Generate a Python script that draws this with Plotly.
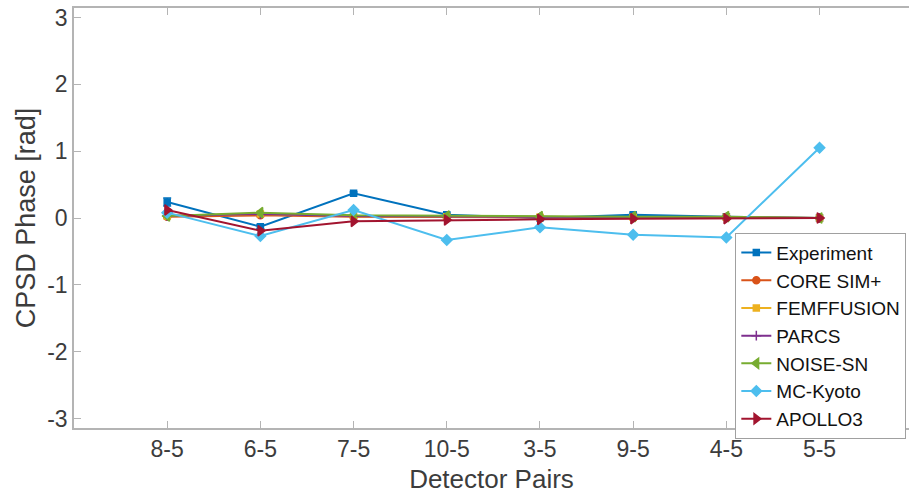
import plotly.graph_objects as go

pairs = ["8-5", "6-5", "7-5", "10-5", "3-5", "9-5", "4-5", "5-5"]
experiment = [0.24, -0.13, 0.37, 0.05, 0.00, 0.05, 0.02, 0.00]
experiment_err = [0.06, 0.03, 0.02, 0.02, 0.01, 0.02, 0.01, 0.00]
core_sim = [0.02, 0.04, 0.02, 0.01, 0.01, 0.01, 0.01, 0.00]
femffusion = [0.03, 0.06, 0.03, 0.02, 0.01, 0.01, 0.01, 0.00]
parcs = [0.03, 0.06, 0.03, 0.02, 0.01, 0.01, 0.01, 0.00]
noise_sn = [0.03, 0.08, 0.04, 0.03, 0.02, 0.02, 0.02, 0.00]
mc_kyoto = [0.08, -0.27, 0.12, -0.33, -0.14, -0.25, -0.29, 1.05]
apollo3 = [0.12, -0.19, -0.05, -0.03, -0.02, -0.01, -0.01, 0.00]
yticks = [-3, -2, -1, 0, 1, 2, 3]
ytick_labels = ["-3", "-2", "-1", "0", "1", "2", "3"]

xpos = list(range(1, len(pairs) + 1))

series = [
    ("Experiment", experiment, "#0072BD", "square", 6),
    ("CORE SIM+", core_sim, "#D95319", "circle", 7),
    ("FEMFFUSION", femffusion, "#EDB120", "square", 6),
    ("PARCS", parcs, "#7E2F8E", "cross-thin", 7),
    ("NOISE-SN", noise_sn, "#77AC30", "triangle-left", 9),
    ("MC-Kyoto", mc_kyoto, "#4DBEEE", "diamond", 8),
    ("APOLLO3", apollo3, "#A2142F", "triangle-right", 9),
]

fig = go.Figure()
for name, vals, color, sym, size in series:
    kw = {}
    if name == "Experiment":
        kw["error_y"] = dict(type="data", array=experiment_err, visible=True,
                             color=color, thickness=1.5, width=4)
    fig.add_trace(go.Scatter(
        x=xpos, y=vals, name=name, mode="lines+markers",
        line=dict(color=color, width=2),
        marker=dict(color=color, symbol=sym, size=size,
                    line=dict(color=color, width=1.5)),
        **kw))

axis_col = "#b4b4b4"
text_col = "#3c3c3c"
fig.update_layout(
    width=909, height=494,
    margin=dict(l=74, r=0, t=8, b=66, autoexpand=False),
    plot_bgcolor="white", paper_bgcolor="white",
    font=dict(family="Liberation Sans, Arial, sans-serif", color=text_col, size=20),
    showlegend=True,
    legend=dict(x=0.792, y=0.465, xanchor="left", yanchor="top",
                bgcolor="white", bordercolor="#a0a0a0", borderwidth=1,
                font=dict(size=19, color="#111111"), tracegroupgap=0,
                itemwidth=30),
)
fig.update_xaxes(
    range=[0, 8.96], tickmode="array", tickvals=xpos, ticktext=pairs,
    showgrid=False, zeroline=False, showline=True, linecolor=axis_col, linewidth=1.5,
    mirror="ticks", ticks="inside", ticklen=7, tickcolor=axis_col,
    tickfont=dict(size=23, color=text_col),
    title=dict(text="Detector Pairs", font=dict(size=26, color=text_col), standoff=8),
)
fig.update_yaxes(
    range=[-3.1416, 3.1416], tickmode="array", tickvals=yticks, ticktext=ytick_labels,
    showgrid=False, zeroline=False, showline=True, linecolor=axis_col, linewidth=1.5,
    ticks="inside", ticklen=7, tickcolor=axis_col,
    tickfont=dict(size=23, color=text_col),
    title=dict(text="CPSD Phase [rad]", font=dict(size=27, color=text_col), standoff=4),
)

fig.write_html("out.html")
